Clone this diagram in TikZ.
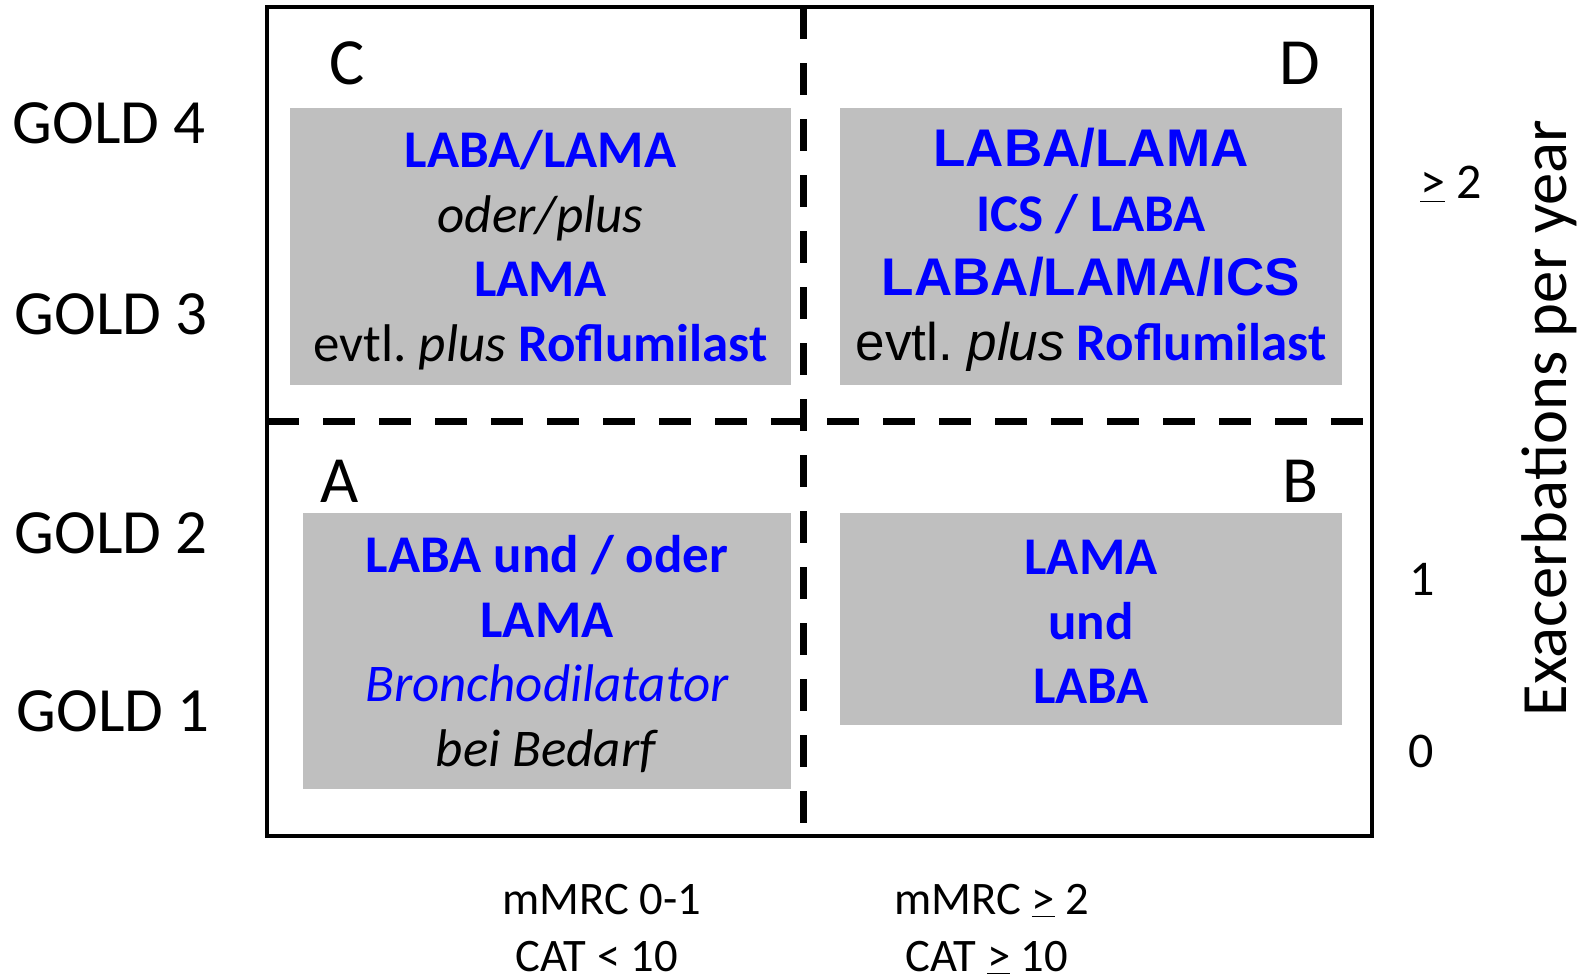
\documentclass[tikz,border=0pt]{standalone}
\usepackage{fontspec}
\setmainfont{Carlito}
\newfontfamily\arial{Liberation Sans}
\definecolor{blu}{HTML}{0000FF}
\definecolor{gry}{HTML}{BFBFBF}
\frenchspacing
\begin{document}
\begin{tikzpicture}[x=0.5pt,y=-0.5pt,
  frame/.style={line width=2pt},
  divider/.style={line width=3.5pt, dash pattern=on 16pt off 12pt},
  box/.style={fill=gry, draw=none, inner sep=0pt},
  boxtext/.style={align=center, inner sep=0pt, font=\fontsize{26.5}{32.25}\selectfont},
  quad/.style={font=\fontsize{33}{40}\selectfont, inner sep=0pt},
  gold/.style={font=\fontsize{31.5}{38}\selectfont, inner sep=0pt},
  axislab/.style={font=\fontsize{23.3}{28}\selectfont, inner sep=0pt, anchor=base},
  ticklab/.style={font=\fontsize{25}{30}\selectfont, inner sep=0pt}
]
\useasboundingbox (0,0) rectangle (1587,980);
\fill[white] (0,0) rectangle (1587,980);

% gray boxes
\node[box, minimum width=250.5pt, minimum height=138.5pt] (boxC) at (540.5,246.5) {};
\node[box, minimum width=251pt, minimum height=138.5pt] (boxD) at (1091,246.5) {};
\node[box, minimum width=244pt, minimum height=138pt] (boxA) at (547,651) {};
\node[box, minimum width=251pt, minimum height=106pt] (boxB) at (1091,619) {};

\node[boxtext] (txtC) at (540.5,250)
  {\textcolor{blu}{\bfseries LABA/LAMA}\\
   \textit{oder/plus}\\
   \textcolor{blu}{\bfseries LAMA}\\
   evtl. \textit{plus} \textcolor{blu}{\bfseries Roflumilast}};
\node[boxtext] (txtD) at (1091,250)
  {\textcolor{blu}{\arial\bfseries LABA/LAMA}\\
   \textcolor{blu}{\bfseries ICS / LABA}\\
   \textcolor{blu}{\arial\bfseries LABA/LAMA/ICS}\\
   {\arial evtl. \itshape plus} \textcolor{blu}{\bfseries Roflumilast}};
\node[boxtext] (txtA) at (547,654)
  {\textcolor{blu}{\bfseries LABA und / oder}\\
   \textcolor{blu}{\bfseries LAMA}\\
   \textcolor{blu}{\itshape Bronchodilatator}\\
   \textit{bei Bedarf}};
\node[boxtext] (txtB) at (1091,622)
  {\textcolor{blu}{\bfseries LAMA}\\
   \textcolor{blu}{\bfseries und}\\
   \textcolor{blu}{\bfseries LABA}};

% frame and dividers
\coordinate (tl) at (267,7);
\coordinate (br) at (1372,836);
\coordinate (vt) at (803,7);
\coordinate (vb) at (803,836);
\coordinate (hl) at (267,421);
\coordinate (hr) at (1372,421);
\draw[frame] (tl) rectangle (br);
\draw[divider] (vt) -- (vb);
\draw[divider] (hl) -- (hr);

% quadrant letters
\node[quad] (lC) at (347,63) {C};
\node[quad] (lD) at (1300,63) {D};
\node[quad] (lA) at (340,481) {A};
\node[quad] (lB) at (1300,481) {B};

% GOLD labels
\node[gold] (g4) at (109,123) {GOLD 4};
\node[gold] (g3) at (111,314) {GOLD 3};
\node[gold] (g2) at (111,533) {GOLD 2};
\node[gold] (g1) at (113,711) {GOLD 1};

% right ticks
\node[ticklab] (t2) at (1451,184) {\underline{>} 2};
\node[ticklab] (t1) at (1422,579) {1};
\node[ticklab] (t0) at (1421,751) {0};
\node[font=\fontsize{32.3}{38}\selectfont, inner sep=0pt, rotate=90] (exa) at (1549,418) {Exacerbations per year};

% bottom labels
\node[axislab] (m1) at (602,914) {mMRC 0-1};
\node[axislab] (c1) at (597,971) {CAT < 10};
\node[axislab] (m2) at (992,914) {mMRC \underline{>} 2};
\node[axislab] (c2) at (987,971) {CAT \underline{>} 10};
\end{tikzpicture}
\end{document}
